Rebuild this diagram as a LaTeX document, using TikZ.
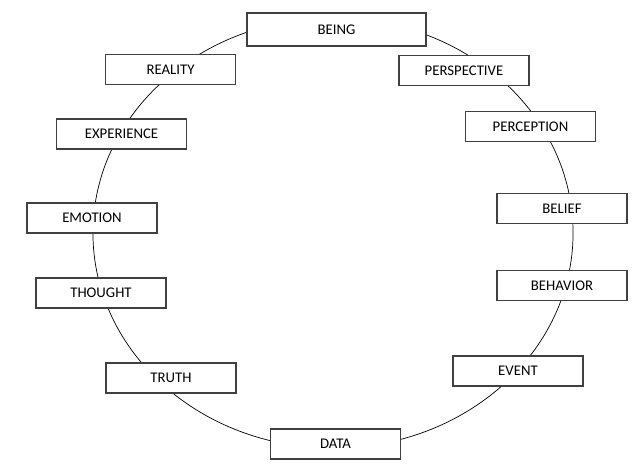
\documentclass[tikz,border=0pt]{standalone}
\usepackage{fontspec}
\setmainfont{Carlito}
\usepackage{tikz}

\begin{document}
\begin{tikzpicture}[x=0.025cm, y=-0.025cm,
   stage/.style={draw=black!75, line width=0.8pt, fill=white,
     rectangle, minimum width=3.25cm, minimum height=0.75cm,
     inner sep=0pt, font=\fontsize{10.5}{12}\selectfont}]
\useasboundingbox (0,0) rectangle (644,470);
\draw[line width=0.5pt] (333,233) ellipse [x radius=6cm, y radius=5.375cm];
\node[stage, minimum width=4.475cm, minimum height=0.825cm] (being) at (336.5,29.5) {BEING};
\node[stage] (perspective) at (464,70.5) {PERSPECTIVE};
\node[stage] (perception) at (530.5,126.5) {PERCEPTION};
\node[stage] (belief) at (562,208.5) {BELIEF};
\node[stage] (behavior) at (562,285.5) {BEHAVIOR};
\node[stage] (event) at (518,371) {EVENT};
\node[stage] (data) at (335.5,444) {DATA};
\node[stage] (truth) at (171,378) {TRUTH};
\node[stage] (thought) at (101,293) {THOUGHT};
\node[stage] (emotion) at (92,218) {EMOTION};
\node[stage] (experience) at (121.5,134) {EXPERIENCE};
\node[stage] (reality) at (170.5,69.5) {REALITY};
\end{tikzpicture}
\end{document}
